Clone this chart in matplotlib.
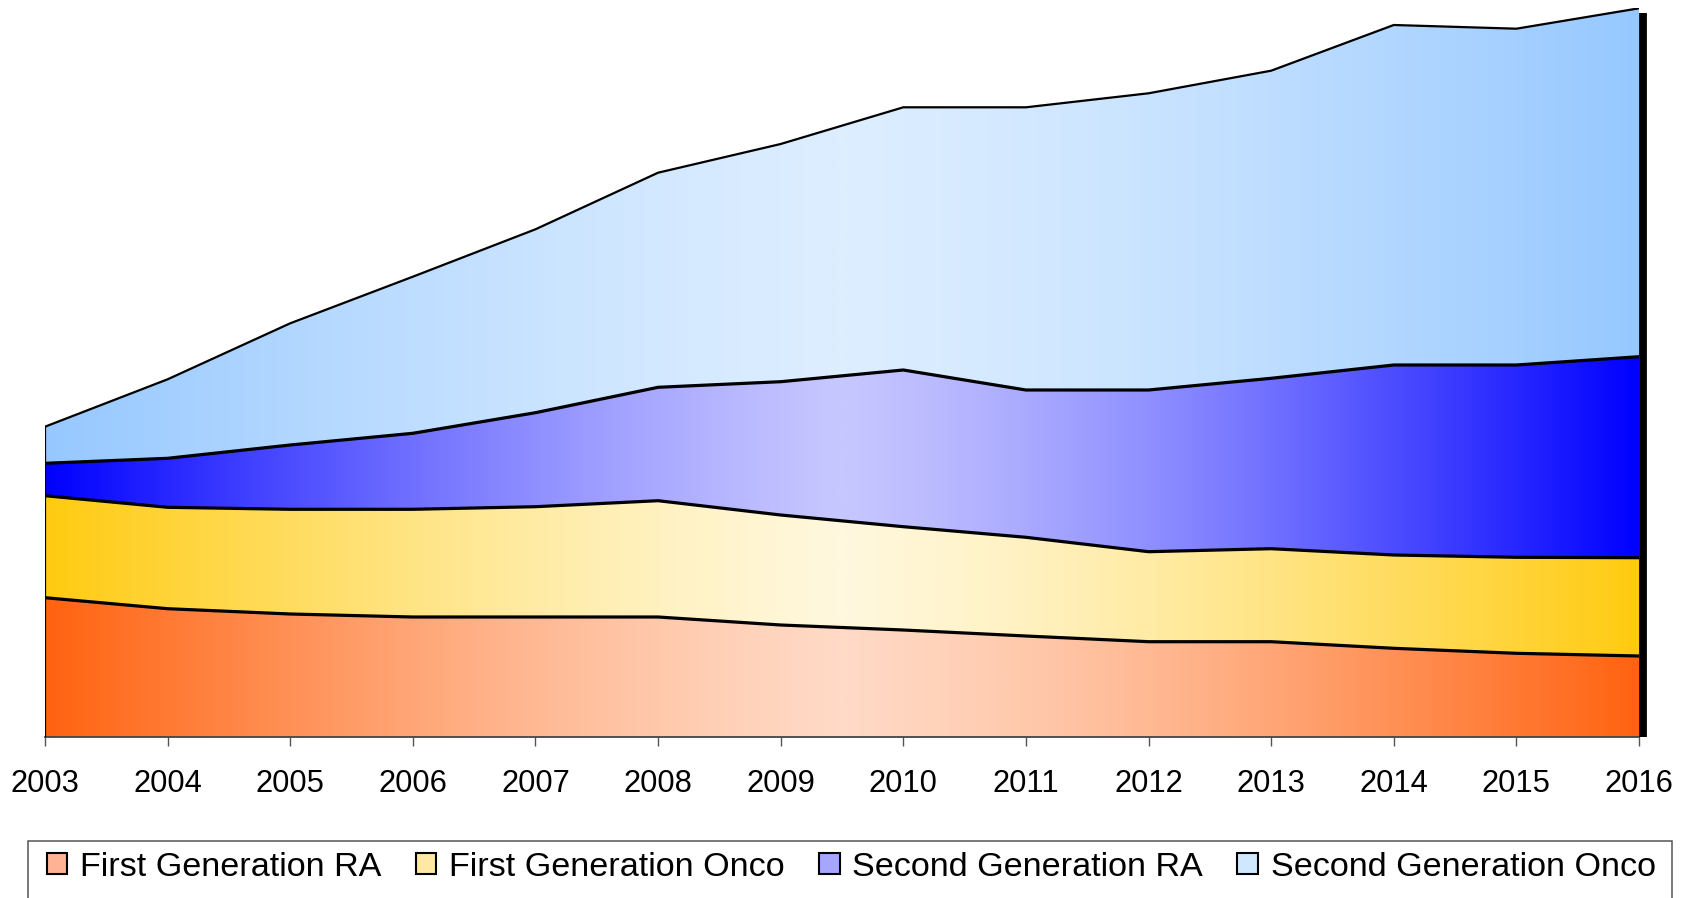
import numpy as np
import matplotlib
matplotlib.use("Agg")
import matplotlib.pyplot as plt
from matplotlib.colors import LinearSegmentedColormap
from matplotlib.patches import Patch, Rectangle
from matplotlib.transforms import offset_copy

# values (no y axis shown, so units are arbitrary)
years = list(range(2003, 2017))
first_gen_ra = [139.6, 128.6, 123.3, 120.3, 120.3, 120.3, 112.3, 107.3, 101.3, 95.6, 95.6, 89.0, 84.0, 81.3]
first_gen_onco = [102.0, 101.4, 104.7, 107.7, 110.3, 116.3, 110.0, 103.3, 98.7, 90.0, 93.0, 93.3, 96.0, 98.3]
second_gen_ra = [32.4, 49.0, 64.3, 76.0, 94.0, 113.4, 133.3, 156.7, 147.3, 161.7, 170.4, 190.0, 192.3, 201.0]
second_gen_onco = [36.6, 79.0, 121.7, 156.6, 183.4, 214.6, 237.7, 262.7, 282.7, 296.7, 307.6, 340.0, 336.3, 348.4]

labels = ["First Generation RA", "First Generation Onco", "Second Generation RA", "Second Generation Onco"]
# (edge colour, centre colour) of each horizontal gradient
gradients = [("#FF6310", "#FFDAC6"),
             ("#FFCB10", "#FFF8DE"),
             ("#0000FF", "#C7C7FF"),
             ("#96C8FF", "#DDEEFF")]
legend_colors = ["#FFB294", "#FFE8A4", "#A6A6FF", "#D0E8FF"]

plt.rcParams["font.family"] = ["Liberation Sans", "DejaVu Sans"]

fig = plt.figure(figsize=(16.87, 8.98), dpi=100)
ax = fig.add_axes([45 / 1687, 1 - 737.3 / 898, 1594 / 1687, 729 / 898])

x = np.array(years, dtype=float)
series = [np.array(s) for s in (first_gen_ra, first_gen_onco, second_gen_ra, second_gen_onco)]
tops = np.cumsum(series, axis=0)
bottoms = np.vstack([np.zeros(len(x)), tops[:-1]])

# ramp: 0 at both ends, 1 in the middle, easing off towards the centre
ramp_x = np.linspace(x[0], x[-1], 600)
mid = (x[0] + x[-1]) / 2
lin = 1 - np.abs(ramp_x - mid) / (mid - x[0])
ramp = 0.5 * lin + 0.5 * np.sin(np.pi / 2 * lin)

for lo, hi, (edge, centre) in zip(bottoms, tops, gradients):
    poly = ax.fill_between(x, lo, hi, facecolor="none", edgecolor="none")
    cmap = LinearSegmentedColormap.from_list("g", [edge, centre])
    im = ax.imshow(ramp[np.newaxis, :], extent=(x[0], x[-1], lo.min(), hi.max()),
                   aspect="auto", cmap=cmap, vmin=0, vmax=1, origin="lower",
                   interpolation="bilinear", zorder=1)
    im.set_clip_path(poly.get_paths()[0], transform=ax.transData)

# boundary lines
for i, hi in enumerate(tops):
    lw = 1.6 if i == len(tops) - 1 else 2.3
    ax.plot(x, hi, color="black", lw=lw, zorder=3, solid_joinstyle="round")
ax.plot([x[0], x[0]], [0, tops[-1][0]], color="black", lw=1.6, zorder=3)

# thick dark edge on the right
shift = offset_copy(ax.transData, fig=fig, x=3.5, y=0, units="dots")
ax.plot([x[-1], x[-1]], [0, tops[-1][-1] - 5], color="black", lw=5.6,
        solid_capstyle="butt", transform=shift, clip_on=False, zorder=4)

ax.set_xlim(x[0], x[-1])
ax.set_ylim(0, tops[-1][-1])
ax.set_xticks(years)
ax.set_xticklabels([str(y) for y in years], fontsize=22.2)
ax.set_yticks([])
ax.tick_params(axis="x", direction="out", length=6.5, width=1, color="#555555", pad=16)
for side in ("left", "top", "right"):
    ax.spines[side].set_visible(False)
ax.spines["bottom"].set_color("#444444")
ax.spines["bottom"].set_linewidth(1.3)

# legend
handles = [Patch(facecolor=c, edgecolor="black", linewidth=1.5) for c in legend_colors]
fig.legend(handles, labels, loc="center left", bbox_to_anchor=(46.7 / 1687, 1 - 867 / 898),
           ncol=4, frameon=False, fontsize=24.6, handlelength=0.6, handleheight=0.6,
           handletextpad=0.38, columnspacing=1.0, borderpad=0, borderaxespad=0)
fig.add_artist(Rectangle((28 / 1687, -0.05), 1644 / 1687, 1 - 841 / 898 + 0.05,
                         transform=fig.transFigure, fill=False, edgecolor="#555555",
                         lw=1.1, clip_on=False))

fig.savefig("out.png", dpi=100)
